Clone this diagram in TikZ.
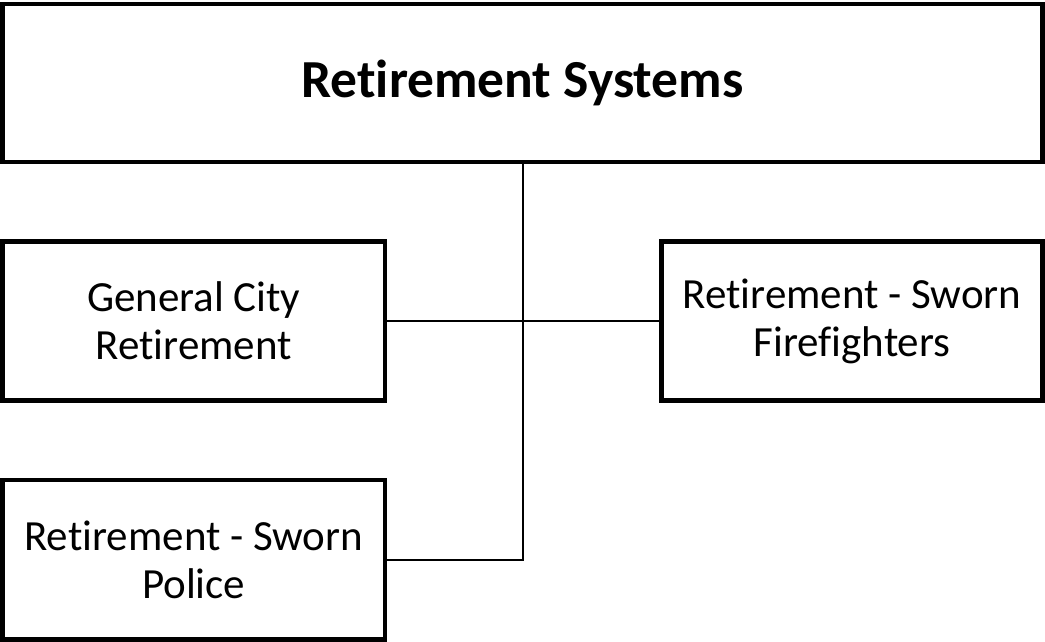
\documentclass[tikz,border=0pt]{standalone}
\usepackage{fontspec}
\setmainfont[Ligatures=NoCommon]{Carlito}
\usetikzlibrary{positioning,calc}
\tikzset{
  orgblk/.style={draw,rectangle,line width=4.5pt,align=center,inner sep=0pt,
    font=\fontsize{43}{48}\selectfont},
  headblk/.style={orgblk,font=\fontsize{53.5}{60}\selectfont\bfseries},
  lnk/.style={line width=2pt}
}
\begin{document}
\begin{tikzpicture}[x=1pt,y=-1pt]
  \useasboundingbox (0,0) rectangle (1045,642);
  % Head box
  \node[headblk, minimum width=1040pt, minimum height=158pt] (sys) at (522.5,83) {Retirement Systems};

  % Member systems
  \node[orgblk, minimum width=382.5pt, minimum height=159pt] (gen) at (193.75,321) {General City\\Retirement};
  \node[orgblk, minimum width=381pt, minimum height=159pt] (fire) at (852,321) {Retirement - Sworn\\Firefighters};
  \node[orgblk, minimum width=382.5pt, minimum height=159.5pt] (pol) at (193.75,559.75) {Retirement - Sworn\\Police};

  % Connections
  \draw[lnk] (sys.south) -- (sys.south |- pol.east) -- (pol.east);
  \draw[lnk] (gen.east) -- (fire.west);
\end{tikzpicture}
\end{document}
